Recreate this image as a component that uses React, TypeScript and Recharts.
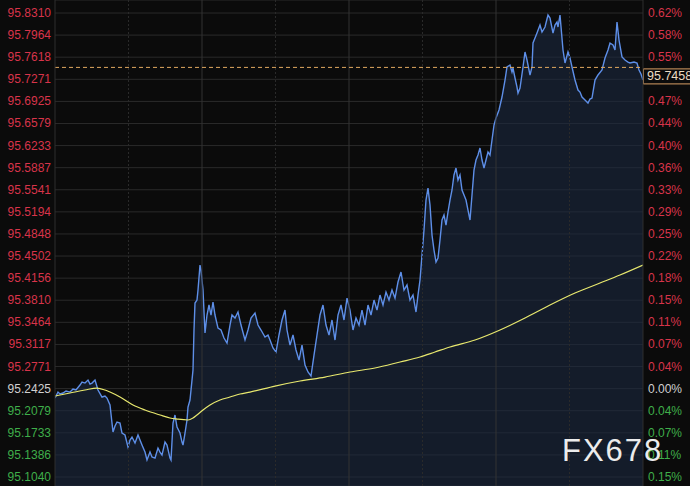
import React from "react";
import {
  ComposedChart,
  Area,
  Line,
  XAxis,
  YAxis,
  CartesianGrid,
  ReferenceLine,
} from "recharts";

// Session time index (minutes from open) for price samples
const priceTimes = [
  0, 3, 5, 8, 11, 15, 18, 21, 25, 27, 30, 33, 35, 37, 40, 43, 47, 50, 52, 55, 57, 58, 60, 62, 65, 67, 70, 73, 75, 77,
  80, 83, 85, 87, 90, 92, 95, 97, 100, 103, 105, 107, 110, 112, 115, 116, 118, 120, 122, 125, 127, 128, 130, 132, 133, 135, 137,
  138, 139, 140, 142, 143, 145, 146, 148, 150, 152, 154, 156, 158, 160, 163, 166, 169, 172, 175, 177, 180, 183, 186, 190, 193,
  196, 200, 203, 206, 210, 213, 215,
  218, 221, 224, 227, 230, 232, 235, 238, 241, 244, 247, 250, 253, 256, 259, 262, 265, 268, 271, 274, 277, 280, 283, 286, 289,
  292, 295, 298, 301, 304, 307, 310, 313, 316, 319, 322, 325, 328, 331, 334, 337, 340, 343, 346, 349, 352, 355, 358, 361, 363, 365,
  367, 369, 371, 373, 375, 377, 379, 381, 383, 385, 387, 389, 391, 393, 395, 397, 399, 401, 403, 405, 407, 409, 411, 413, 415,
  417, 419, 421, 423, 425, 427, 429, 431, 433, 435, 437, 439, 441,
  444, 447, 450, 452, 455, 457, 458, 460, 462, 463, 465, 468, 470, 472, 475, 477, 478, 480, 482, 485, 487, 490, 493, 495, 498,
  500, 502, 503, 505, 508, 510, 513, 515, 517, 520, 523, 525, 527, 530, 533, 535, 537, 540, 543, 547, 550, 553, 555, 558, 560,
  562, 564, 567, 570, 573, 575, 579, 582, 584, 586, 588,
];

const prices = [
  95.2277, 95.2371, 95.234, 95.2356, 95.2387, 95.2371, 95.2418, 95.2403, 95.2481, 95.2528,
  95.2512, 95.2559, 95.2497, 95.2512, 95.2559, 95.2403, 95.2293, 95.2309, 95.2277, 95.2168,
  95.1886, 95.1745, 95.1839, 95.1901, 95.1886, 95.1729, 95.1698, 95.151, 95.1619, 95.1666,
  95.1572, 95.1698, 95.1619, 95.1541, 95.1431, 95.1306, 95.1431, 95.1353, 95.1337, 95.1494,
  95.1431, 95.1384, 95.1588, 95.1541, 95.1337, 95.1306, 95.1886, 95.2011, 95.1823, 95.1729,
  95.1588, 95.1541, 95.1729, 95.1933, 95.2136, 95.2246, 95.2559,
  95.2716, 95.3343, 95.3766, 95.3813, 95.397, 95.4361, 95.4283, 95.397, 95.3296, 95.3578,
  95.3735, 95.3578, 95.3782, 95.3578, 95.3374, 95.3343, 95.3218, 95.3139, 95.3421, 95.3578,
  95.3531, 95.3625, 95.3421, 95.3186, 95.3343, 95.3531, 95.3609, 95.3421, 95.3343, 95.3233,
  95.3265, 95.3186,
  95.3061, 95.2998, 95.3265, 95.35, 95.3656, 95.3343, 95.3108, 95.3265, 95.303, 95.2873,
  95.3108, 95.2795, 95.2685, 95.2622, 95.2951, 95.3265, 95.3578, 95.3735, 95.3421, 95.3265,
  95.35, 95.3186, 95.3578, 95.3735, 95.35, 95.3844, 95.3656, 95.3343, 95.3531, 95.3421,
  95.3656, 95.3421, 95.3735, 95.3578, 95.3813, 95.3656, 95.3891, 95.3735, 95.3938, 95.3813,
  95.397, 95.3844, 95.4095, 95.4252, 95.397, 95.4048, 95.3813, 95.3891, 95.3625, 95.3891,
  95.4126,
  95.4518, 95.491, 95.538, 95.5568, 95.5302, 95.4831, 95.4596, 95.4408, 95.4471, 95.4753,
  95.5067, 95.5145, 95.4988, 95.5192, 95.538, 95.5537, 95.5772, 95.5881, 95.5693, 95.5772,
  95.5537, 95.5458, 95.538, 95.5223, 95.5067, 95.5458, 95.585, 95.6007, 95.6085, 95.6195,
  95.6007, 95.5881, 95.6007, 95.6132, 95.6085, 95.632, 95.6555, 95.6665,
  95.679, 95.6994, 95.726, 95.7464, 95.7495, 95.7386, 95.7448, 95.7292, 95.715, 95.7056,
  95.7135, 95.7464, 95.7699, 95.7574, 95.7339, 95.7464, 95.784, 95.7918, 95.7997, 95.8122,
  95.8012, 95.8091, 95.8279, 95.8232, 95.7997, 95.8122, 95.8169, 95.8091, 95.8279, 95.773,
  95.7527, 95.7699, 95.7605, 95.7464, 95.726, 95.7103, 95.7072, 95.6994, 95.6947, 95.69,
  95.6962, 95.6978, 95.726, 95.7339, 95.7417, 95.7605, 95.773, 95.784, 95.7809, 95.773,
  95.8169, 95.7887, 95.7621, 95.7574, 95.7542, 95.7527, 95.7542, 95.7527, 95.7417, 95.7354,
  95.726,
];

// Moving average samples
const maTimes = [
  0, 15, 30, 42, 50, 55, 65, 78, 90, 105, 115, 122, 133, 138, 142, 148, 155, 165, 175, 185, 195,
  220, 245, 270, 295, 320, 345, 365, 380, 395, 420, 445, 470, 495, 520, 545, 565, 588,
];
const maValues = [
  95.2309, 95.2356, 95.2403, 95.2434, 95.2403, 95.2371, 95.2293, 95.2168, 95.2089, 95.2011, 95.1964,
  95.1948, 95.1933, 95.1964, 95.2011, 95.2089, 95.2168, 95.2246, 95.2293, 95.234, 95.2371,
  95.2465, 95.2544, 95.2606, 95.2685, 95.2748, 95.2842, 95.292, 95.2998, 95.3077, 95.3186, 95.3343,
  95.3531, 95.3735, 95.3923, 95.4079, 95.4205, 95.4361,
];

const priceTicks = [
  95.831, 95.7964, 95.7618, 95.7271, 95.6925, 95.6579, 95.6233, 95.5887, 95.5541, 95.5194, 95.4848,
  95.4502, 95.4156, 95.381, 95.3464, 95.3117, 95.2771, 95.2425, 95.2079, 95.1733, 95.1386, 95.104,
];
const percentLabels = [
  "0.62%", "0.58%", "0.55%", "0.51%", "0.47%", "0.44%", "0.40%", "0.36%", "0.33%", "0.29%", "0.25%",
  "0.22%", "0.18%", "0.15%", "0.11%", "0.07%", "0.04%", "0.00%", "0.04%", "0.07%", "0.11%", "0.15%",
];
const prevClose = 95.2425;
const lastPrice = 95.7458;
const timeGrid = [73.5, 147, 220.5, 294, 367.5, 441, 514.5];
const timeDomain = [0, 588];
const priceDomain = [95.0899, 95.8514];

const priceData = priceTimes.map((t, i) => ({ t, price: prices[i] }));
const maData = maTimes.map((t, i) => ({ t, ma: maValues[i] }));

const RED = "#d8344a";
const GREEN = "#3fae4a";
const WHITE = "#d0d0d0";
const FONT = "'Liberation Sans', Arial, sans-serif";

const colorFor = (v: number) =>
  Math.abs(v - prevClose) < 1e-6 ? WHITE : v > prevClose ? RED : GREEN;

const LeftTick = (props: any) => {
  const { x, y, payload } = props;
  const v = payload.value as number;
  return (
    <text x={x} y={y} dy={4} textAnchor="end" fill={colorFor(v)} fontSize={12} fontFamily={FONT}>
      {v.toFixed(4)}
    </text>
  );
};

const RightTick = (props: any) => {
  const { x, y, payload } = props;
  const v = payload.value as number;
  // the last-price tag sits just below the dashed line and hides the tick it covers
  const covered = v < lastPrice && lastPrice - v < 0.025;
  if (covered) return <g />;
  const idx = priceTicks.findIndex((p) => Math.abs(p - v) < 1e-6);
  return (
    <text x={x} y={y} dy={4} textAnchor="start" fill={colorFor(v)} fontSize={12} fontFamily={FONT}>
      {idx >= 0 ? percentLabels[idx] : ""}
    </text>
  );
};

const PriceTag = (props: any) => {
  const vb = props.viewBox || {};
  const x = vb.x + vb.width;
  const y = vb.y;
  return (
    <g>
      <rect x={x + 0.5} y={y + 1.5} width={50} height={15} fill="#0b0b0b" stroke="#d9a066" strokeWidth={1} />
      <text x={x + 4} y={y + 13} fill="#ecdcc4" fontSize={12.5} fontFamily={FONT}>
        {lastPrice.toFixed(4)}
      </text>
    </g>
  );
};

export default function App() {
  return (
    <div
      style={{
        position: "absolute",
        left: 0,
        top: 0,
        width: 690,
        height: 486,
        background: "#0b0b0b",
        overflow: "hidden",
      }}
    >
      <ComposedChart width={690} height={486} margin={{ top: 0, right: 0, bottom: 0, left: 0 }}>
        <CartesianGrid yAxisId="left" vertical={false} stroke="#2a2a2a" strokeWidth={1} />
        <XAxis dataKey="t" type="number" domain={timeDomain} hide allowDataOverflow />
        <YAxis
          yAxisId="left"
          orientation="left"
          width={55}
          domain={priceDomain}
          ticks={priceTicks}
          interval={0}
          tickSize={0}
          tickMargin={4}
          tick={<LeftTick />}
          axisLine={{ stroke: "#2e2e2e" }}
          tickLine={false}
          allowDataOverflow
        />
        <YAxis
          yAxisId="right"
          orientation="right"
          width={47}
          domain={priceDomain}
          ticks={priceTicks}
          interval={0}
          tickSize={0}
          tickMargin={5}
          tick={<RightTick />}
          axisLine={{ stroke: "#2e2e2e" }}
          tickLine={false}
          allowDataOverflow
        />
        {timeGrid.map((g, i) => (
          <ReferenceLine
            key={g}
            yAxisId="left"
            x={g}
            stroke={i % 2 === 1 ? "#333333" : "#2a2a2a"}
            strokeDasharray={i % 2 === 1 ? undefined : "2 2"}
          />
        ))}
        <Area
          yAxisId="left"
          data={priceData}
          dataKey="price"
          type="linear"
          stroke="#5e8fe8"
          strokeWidth={1.4}
          fill="#1a2840"
          fillOpacity={0.6}
          isAnimationActive={false}
          dot={false}
          activeDot={false}
        />
        <Line
          yAxisId="left"
          data={maData}
          dataKey="ma"
          type="monotone"
          stroke="#e8e86e"
          strokeWidth={1.2}
          dot={false}
          activeDot={false}
          isAnimationActive={false}
        />
        <ReferenceLine
          yAxisId="left"
          y={lastPrice}
          stroke="#e0a860"
          strokeDasharray="4 3"
          label={<PriceTag />}
        />
      </ComposedChart>
      <svg
        width={690}
        height={486}
        style={{ position: "absolute", left: 0, top: 0, pointerEvents: "none" }}
      >
        <text x={562} y={461} fill="#ececec" fontSize={31} fontFamily={FONT} letterSpacing={2}>
          FX678
        </text>
      </svg>
    </div>
  );
}
